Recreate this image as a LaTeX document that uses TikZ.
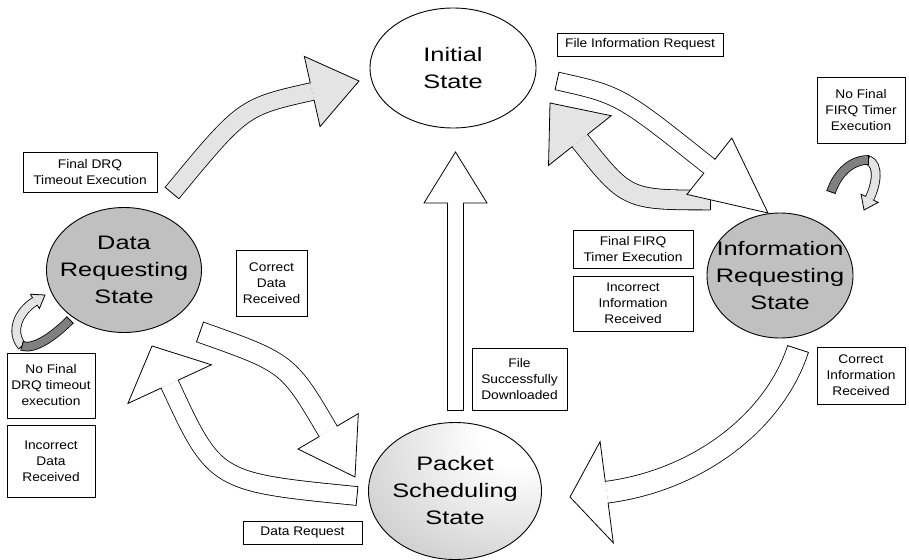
\documentclass[tikz,border=0pt]{standalone}
\usepackage{fontspec}
\setmainfont{Liberation Sans}
\newfontfamily\statefont[FakeStretch=1.3]{Liberation Sans}
\newfontfamily\labfont[FakeStretch=1.1]{Liberation Sans}
\usetikzlibrary{shapes.geometric}
\definecolor{stgray}{RGB}{192,192,192}
\definecolor{patt}{RGB}{228,228,228}
\definecolor{loopgray}{RGB}{128,128,128}
\pgfdeclareradialshading{pktshade}{\pgfpoint{22bp}{24bp}}{color(0bp)=(white); color(12bp)=(white); color(55bp)=(gray!50); color(80bp)=(gray!72); color(100bp)=(gray!72)}
\def\bw{10}\def\bh{20}\def\bl{10}\def\bfill{white}
\tikzset{
  statenode/.style={ellipse, draw, inner sep=0pt, line width=0.9pt},
  statetext/.style={align=center, inner sep=0pt, font=\statefont\fontsize{19.5}{27}\selectfont},
  labbox/.style={draw, rectangle, inner sep=0pt, align=center, line width=0.8pt,
    font=\labfont\fontsize{12.5}{16}\selectfont},
  bahead/.pic={\filldraw[fill=\bfill, line join=miter, line width=0.8pt]
     ({-\bl*1pt},{\bw*0.5pt}) -- ({-\bl*1pt},{\bh*0.5pt}) -- (0pt,0pt) --
     ({-\bl*1pt},{-\bh*0.5pt}) -- ({-\bl*1pt},{-\bw*0.5pt});},
  batail/.pic={\draw[line width=0.8pt] (0pt,{-\bw*0.5pt-0.8pt}) -- (0pt,{\bw*0.5pt+0.8pt});}
}
% block arrow: #1 shaft width, #2 head width, #3 head length, #4 fill, #5 path
\newcommand\barrow[5]{%
  \def\bw{#1}\def\bh{#2}\def\bl{#3}\def\bfill{#4}%
  \draw[line width={#1*1pt+1.6pt}, shorten >={#3*1pt}] #5;
  \draw[line width={#1*1pt}, draw=#4, shorten >={#3*1pt}] #5;
  \path #5 pic[pos=1, sloped, allow upside down]{bahead}
           pic[pos=0, sloped, allow upside down]{batail};}
% band without head
\newcommand\bband[3]{%
  \def\bw{#1}%
  \draw[line width={#1*1pt+1.6pt}] #3;
  \draw[line width={#1*1pt}, draw=#2] #3;
  \path #3 pic[pos=0, sloped, allow upside down]{batail}
           pic[pos=1, sloped, allow upside down]{batail};}
\begin{document}
\begin{tikzpicture}[x=1pt, y=-1pt, line width=0.8pt]
\useasboundingbox (0,0) rectangle (909,559);

% states
\node[statenode, fill=white, minimum width=166pt, minimum height=120pt] (init) at (453,68) {};
\node[statetext] (initT) at (init.center) {Initial\\State};
\node[statenode, fill=stgray, minimum width=155pt, minimum height=125pt] (drs) at (124,270) {};
\node[statetext] (drsT) at (drs.center) {Data\\Requesting\\State};
\node[statenode, fill=stgray, minimum width=146pt, minimum height=125pt] (irs) at (780,275.5) {};
\node[statetext] (irsT) at (irs.center) {Information\\Requesting\\State};
\node[statenode, shading=pktshade, minimum width=173pt, minimum height=137pt] (pss) at (455,491) {};
\node[statetext] (pssT) at (pss.center) {Packet\\Scheduling\\State};

% labels
\node[labbox, minimum width=166pt, minimum height=23pt] (l1) at (640,44.5) {File Information Request};
\node[labbox, minimum width=88pt, minimum height=66pt] (l2) at (861,110) {No Final\\FIRQ Timer\\Execution};
\node[labbox, minimum width=134pt, minimum height=40pt] (l3) at (90,172) {Final DRQ\\Timeout Execution};
\node[labbox, minimum width=71pt, minimum height=66pt] (l4) at (271.5,283) {Correct\\Data\\Received};
\node[labbox, minimum width=120pt, minimum height=38pt] (l5) at (633,249) {Final FIRQ\\Timer Execution};
\node[labbox, minimum width=120pt, minimum height=55pt] (l6) at (633,303.5) {Incorrect\\Information\\Received};
\node[labbox, minimum width=95pt, minimum height=62pt] (l7) at (519.5,379) {File\\Successfully\\Downloaded};
\node[labbox, minimum width=88pt, minimum height=57pt] (l8) at (861,375.5) {Correct\\Information\\Received};
\node[labbox, minimum width=88pt, minimum height=65pt] (l9) at (51,385.5) {No Final\\DRQ timeout\\execution};
\node[labbox, minimum width=88pt, minimum height=72pt] (l10) at (51,461) {Incorrect\\Data\\Received};
\node[labbox, minimum width=119pt, minimum height=23pt] (l11) at (302.5,532.5) {Data Request};

% arrow end points
\coordinate (aS) at (172,193);  \coordinate (aE) at (359,81);
\coordinate (bS) at (557,81);   \coordinate (bE) at (768,213);
\coordinate (cS) at (710,200);  \coordinate (cE) at (550,103);
\coordinate (dS) at (200,332);  \coordinate (dE) at (355,477);
\coordinate (eS) at (357,496);  \coordinate (eE) at (152,346);
\coordinate (fS) at (455.5,410);\coordinate (fE) at (455.5,152);
\coordinate (gS) at (798,349);  \coordinate (gE) at (570,497);

% block arrows
\barrow{17}{72}{48}{patt}{(aS) .. controls (243,107) .. (aE)}
\barrow{19}{80}{48}{patt}{(cS) .. controls (627,200) .. (cE)}
\barrow{17}{72}{75}{white}{(bS) .. controls (620,95) .. (bE)}
\barrow{20}{70}{53}{white}{(dS) .. controls (288,363) .. (dE)}
\barrow{18}{92}{42}{white}{(eS) .. controls (215,482) .. (eE)}
\barrow{15}{63}{51}{white}{(fS) -- (fE)}
\barrow{21}{102}{37}{white}{(gS) .. controls (775,420) and (700,480) .. (gE)}

% self loops
\coordinate (lpA) at (22,346); \coordinate (lpT) at (45,295); \coordinate (lpB) at (70,320);
\barrow{8}{17}{12}{patt}{(lpA) .. controls (10,332) and (18,312) .. (lpT)}
\bband{8}{loopgray}{(lpB) .. controls (55,335) and (35,350) .. (lpA)}
\coordinate (rpA) at (868,160); \coordinate (rpT) at (864,210); \coordinate (rpB) at (831,192);
\barrow{8}{19}{13}{patt}{(rpA) .. controls (880,165) and (876,185) .. (rpT)}
\bband{8}{loopgray}{(rpB) .. controls (838,172) and (852,160) .. (rpA)}
\end{tikzpicture}
\end{document}
